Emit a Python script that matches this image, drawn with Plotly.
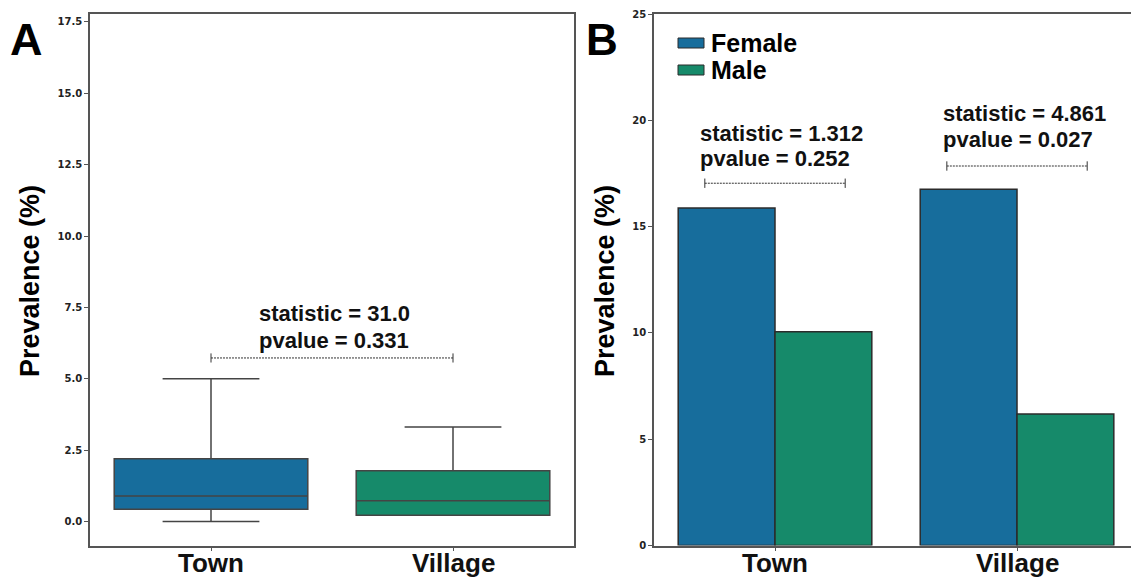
import plotly.graph_objects as go

# ---------------- data ----------------
categories = ["Town", "Village"]
box_q1 = [0.43, 0.22]
box_median = [0.89, 0.73]
box_q3 = [2.20, 1.78]
box_lower = [0.0, 0.22]
box_upper = [5.0, 3.31]

sexes = ["Female", "Male"]
female_prev = [15.87, 16.76]
male_prev = [10.05, 6.19]

stat_a = ["statistic = 31.0", "pvalue = 0.331"]
stat_b = [["statistic = 1.312", "pvalue = 0.252"], ["statistic = 4.861", "pvalue = 0.027"]]

yticks_a = [0, 2.5, 5, 7.5, 10, 12.5, 15, 17.5]
yticks_b = [0, 5, 10, 15, 20, 25]

# ---------------- style ----------------
W, H = 1131, 579
BLUE = "#176D9C"
GREEN = "#168A6A"
EDGE = "#2b2b2b"
AX = "#555555"
SANS = "Liberation Sans, Arial, sans-serif"
TICK = "DejaVu Sans"
colors = [BLUE, GREEN]


def px(x):
    return x / W


def py(y):
    return 1 - y / H


fig = go.Figure()

# Panel A box plots
for i, cat in enumerate(categories):
    fig.add_trace(go.Box(
        x=[cat], q1=[box_q1[i]], median=[box_median[i]], q3=[box_q3[i]],
        lowerfence=[box_lower[i]], upperfence=[box_upper[i]],
        fillcolor=colors[i], line=dict(color="#444444", width=1.5),
        whiskerwidth=0.5, boxpoints=False, showlegend=False,
        xaxis="x", yaxis="y", hoverinfo="skip",
    ))

# Panel B bars
for vals, name, col in [(female_prev, sexes[0], BLUE), (male_prev, sexes[1], GREEN)]:
    fig.add_trace(go.Bar(
        x=categories, y=vals, name=name, marker=dict(color=col, line=dict(color=EDGE, width=1.5)),
        xaxis="x2", yaxis="y2", showlegend=False,
    ))

axis_common = dict(showline=True, linecolor=AX, linewidth=1.5, ticks="outside",
                   ticklen=4, tickwidth=1.2, tickcolor=AX, showgrid=False, zeroline=False,
                   automargin=False)

ya_font = dict(family=TICK, size=10, color="#222222", weight="bold")

fig.update_layout(
    width=W, height=H, margin=dict(l=0, r=0, t=0, b=0),
    paper_bgcolor="white", plot_bgcolor="white",
    boxmode="overlay", boxgap=0.2, boxgroupgap=0,
    barmode="group", bargap=0.2, bargroupgap=0,
    xaxis=dict(domain=[px(90), px(574)], anchor="y", range=[-0.5, 1.5], mirror=True,
               showticklabels=False, **axis_common),
    yaxis=dict(domain=[py(545.5), py(14)], anchor="x", range=[-0.84, 17.78], mirror=True,
               tickvals=yticks_a, tickformat=".1f", tickfont=ya_font, **axis_common),
    xaxis2=dict(domain=[px(654), 1], anchor="y2", range=[-0.5, 1.471], mirror=True,
                showticklabels=False, **axis_common),
    yaxis2=dict(domain=[py(545.5), py(14)], anchor="x2", range=[0, 25], mirror=False,
                tickvals=yticks_b, tickfont=ya_font, **axis_common),
)

ann_font = dict(family=SANS, size=22, color="#111111", weight="bold")
annotations = []
shapes = []

# category labels (x tick labels)
for xr in ["x", "x2"]:
    for cat in categories:
        annotations.append(dict(text=cat, x=cat, y=py(563), xref=xr, yref="paper",
                                showarrow=False, xanchor="center", yanchor="middle",
                                font=dict(family=SANS, size=26, color="#111111", weight="bold")))

# panel letters
annotations.append(dict(text="A", x=px(27), y=py(39), xref="paper", yref="paper", showarrow=False,
                        xanchor="center", yanchor="middle",
                        font=dict(family=SANS, size=45, color="black", weight="bold")))
annotations.append(dict(text="B", x=px(602), y=py(39), xref="paper", yref="paper", showarrow=False,
                        xanchor="center", yanchor="middle",
                        font=dict(family=SANS, size=44, color="black", weight="bold")))

# y titles
for xx in [30, 605]:
    annotations.append(dict(text="Prevalence (%)", x=px(xx), y=py(281), xref="paper", yref="paper",
                            showarrow=False, textangle=-90, xanchor="center", yanchor="middle",
                            font=dict(family=SANS, size=27, color="black", weight="bold")))


def bracket(xref, yref, x0, x1, y, tick_h):
    shapes.append(dict(type="line", xref=xref, yref=yref, x0=x0, x1=x1, y0=y, y1=y,
                       line=dict(color="#333333", width=1, dash="2px,1px")))
    for xx in (x0, x1):
        shapes.append(dict(type="line", xref=xref, yref=yref, x0=xx, x1=xx,
                           y0=y - tick_h, y1=y + tick_h, line=dict(color="#333333", width=1)))


def stat_text(xref, yref, x, y_top, lines, dy):
    for k, t in enumerate(lines):
        annotations.append(dict(text=t, x=x, y=y_top - k * dy, xref=xref, yref=yref,
                                showarrow=False, xanchor="left", yanchor="middle", font=ann_font))


# Panel A stats
bracket("x", "y", 0.0, 1.0, 5.73, 0.16)
stat_text("x", "y", 0.19, 7.3, stat_a, 0.95)

# Panel B stats
bracket("x2", "y2", -0.29, 0.29, 17.04, 0.22)
stat_text("x2", "y2", -0.32, 19.4, stat_b[0], 1.2)
bracket("x2", "y2", 0.71, 1.29, 17.85, 0.22)
stat_text("x2", "y2", 0.685, 20.3, stat_b[1], 1.2)

# manual legend
for k, (name, col) in enumerate(zip(sexes, colors)):
    yc = 43 + k * 27
    shapes.append(dict(type="rect", xref="paper", yref="paper", x0=px(678), x1=px(704),
                       y0=py(yc - 5), y1=py(yc + 5), fillcolor=col, line=dict(color=EDGE, width=1)))
    annotations.append(dict(text=name, x=px(709), y=py(yc), xref="paper", yref="paper",
                            showarrow=False, xanchor="left", yanchor="middle",
                            font=dict(family=SANS, size=25, color="black", weight="bold")))

fig.update_layout(annotations=annotations, shapes=shapes)
fig.write_html("out.html", config={"displayModeBar": False},
               post_script="document.body.style.margin='0';document.body.style.overflow='hidden';")
